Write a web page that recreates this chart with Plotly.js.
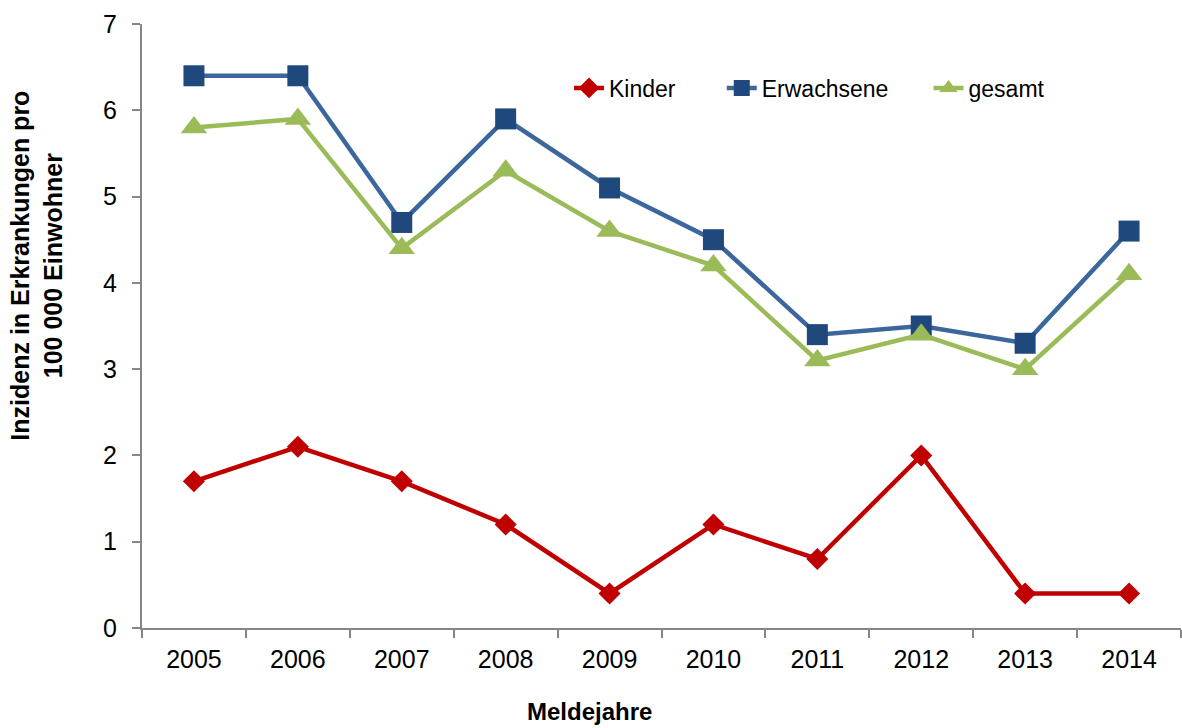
<!DOCTYPE html>
<html>
<head>
<meta charset="utf-8">
<script src="https://cdn.plot.ly/plotly-3.0.1.min.js"></script>
<style>
  html, body { margin: 0; padding: 0; background: #fff; }
  #chart { width: 1182px; height: 728px; }
</style>
</head>
<body>
<div id="chart"></div>
<script>
// Meldejahre
const years = ['2005', '2006', '2007', '2008', '2009', '2010', '2011', '2012', '2013', '2014'];

// Inzidenz je 100 000 Einwohner
const kinder = [1.7, 2.1, 1.7, 1.2, 0.4, 1.2, 0.8, 2.0, 0.4, 0.4];
const erwachsene = [6.4, 6.4, 4.7, 5.9, 5.1, 4.5, 3.4, 3.5, 3.3, 4.6];
const gesamt = [5.8, 5.9, 4.4, 5.3, 4.6, 4.2, 3.1, 3.4, 3.0, 4.1];

const font = 'Liberation Sans, Arial, sans-serif';

const traces = [
  {
    name: 'Kinder', x: years, y: kinder, type: 'scatter', mode: 'lines+markers',
    legend: 'legend',
    line: { color: '#C00000', width: 4.5 },
    marker: { symbol: 'diamond', size: 17, color: '#C00000' }
  },
  {
    name: 'Erwachsene', x: years, y: erwachsene, type: 'scatter', mode: 'lines+markers',
    legend: 'legend2',
    line: { color: '#3B679C', width: 4.5 },
    marker: { symbol: 'square', size: 21, color: '#1F497D' }
  },
  {
    name: 'gesamt', x: years, y: gesamt, type: 'scatter', mode: 'lines+markers',
    legend: 'legend3',
    line: { color: '#9BBB59', width: 4.5 },
    marker: { symbol: 'triangle-up', size: 23, color: '#9BBB59' }
  }
];

// one legend box per series, spaced along the top of the plot
function legendBox(x) {
  return {
    orientation: 'h', x: x, y: 0.894, xanchor: 'left', yanchor: 'middle',
    font: { family: font, size: 23, color: '#000' },
    bgcolor: 'rgba(0,0,0,0)'
  };
}

const layout = {
  width: 1182, height: 728,
  margin: { l: 142, r: 1, t: 24, b: 100 },
  paper_bgcolor: '#fff', plot_bgcolor: '#fff',
  font: { family: font, color: '#000', size: 24 },
  showlegend: true,
  legend: legendBox(0.411),
  legend2: legendBox(0.558),
  legend3: legendBox(0.757),
  xaxis: {
    type: 'category',
    range: [-0.5, 9.5],
    tickson: 'boundaries',
    showline: true, linecolor: '#868686', linewidth: 2,
    ticks: 'outside', ticklen: 8, tickwidth: 2, tickcolor: '#868686',
    ticklabelstandoff: 8,
    showgrid: false, zeroline: false,
    tickfont: { family: font, size: 25 }
  },
  yaxis: {
    range: [0, 7], dtick: 1,
    showline: true, linecolor: '#868686', linewidth: 2,
    ticks: 'outside', ticklen: 8, tickwidth: 2, tickcolor: '#868686',
    ticklabelstandoff: 10,
    showgrid: false, zeroline: false,
    tickfont: { family: font, size: 25 }
  },
  annotations: [
    {
      text: '<b>Meldejahre</b>', xref: 'paper', yref: 'paper',
      x: 0.431, y: -0.139, xanchor: 'center', yanchor: 'middle', showarrow: false,
      font: { family: font, size: 24, color: '#000' }
    },
    {
      text: '<b>Inzidenz in Erkrankungen pro<br>100 000 Einwohner</b>', xref: 'paper', yref: 'paper',
      x: -0.101, y: 0.6, xanchor: 'center', yanchor: 'middle', showarrow: false,
      textangle: -90, align: 'center',
      font: { family: font, size: 25, color: '#000' }
    }
  ]
};

Plotly.newPlot('chart', traces, layout, { displayModeBar: false, staticPlot: true });
</script>
</body>
</html>
